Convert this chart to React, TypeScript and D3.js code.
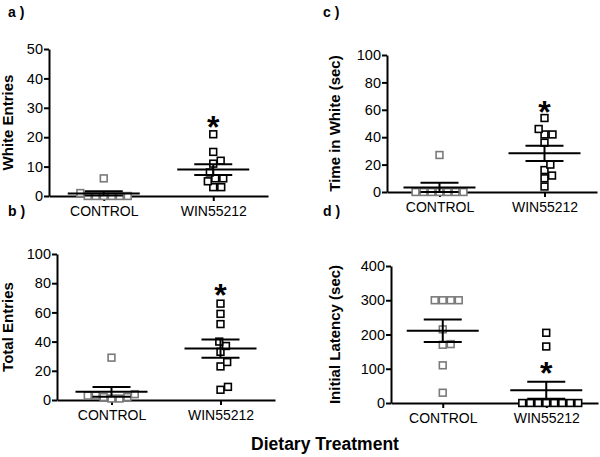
import React, { useEffect, useRef } from "react";
import * as d3 from "d3";

const categories = ["CONTROL", "WIN55212"];

const whiteEntriesControl = [0, 0, 0, 0, 0, 0, 1, 6];
const whiteEntriesWin = [3, 3, 5, 6, 6, 8, 11, 12, 15, 21];
const totalEntriesControl = [1, 1, 2, 2, 3, 3, 4, 29];
const totalEntriesWin = [7, 9, 23, 26, 33, 37, 40, 52, 59, 66];
const timeWhiteControl = [0, 0, 0, 0, 0, 0, 0, 27];
const timeWhiteWin = [4, 10, 12, 16, 20, 36, 42, 42, 46, 54];
const latencyControl = [30, 110, 170, 172, 215, 300, 300, 300, 300];
const latencyWin = [0, 0, 0, 0, 0, 0, 0, 0, 165, 205];

const panelLetters = ["a )", "b )", "c )", "d )"];
const yLabels = ["White Entries", "Total Entries", "Time in White (sec)", "Initial Latency (sec)"];
const yMaxes = [50, 100, 100, 400];
const yTickSteps = [10, 20, 20, 100];
const starValues = [26, 77, 64, 110];
const xTitle = "Dietary Treatment";

const seriesByPanel = [
  [whiteEntriesControl, whiteEntriesWin],
  [totalEntriesControl, totalEntriesWin],
  [timeWhiteControl, timeWhiteWin],
  [latencyControl, latencyWin],
];

// layout (pixels)
const layouts = [
  { left: 49, right: 268, top: 49, bottom: 196, labelX: 8, letterX: 8, letterY: 17 },
  { left: 57, right: 275, top: 254, bottom: 400, labelX: 8, letterX: 8, letterY: 216 },
  { left: 387, right: 597, top: 55, bottom: 192, labelX: 335, letterX: 323, letterY: 17 },
  { left: 391, right: 598, top: 266, bottom: 403, labelX: 335, letterX: 323, letterY: 216 },
];

const FONT = "'Liberation Sans', Arial, Helvetica, sans-serif";
const colors = ["#7a7a7a", "#000000"];

function swarm(values: number[], y: (v: number) => number, d: number) {
  const placed: { x: number; y: number }[] = [];
  for (const v of values) {
    const py = y(v);
    const cands = [0];
    for (const p of placed) {
      const dy = Math.abs(p.y - py);
      if (dy < d) {
        const dx = Math.sqrt(d * d - dy * dy);
        cands.push(p.x + dx, p.x - dx);
      }
    }
    cands.sort((a, b) => Math.abs(a) - Math.abs(b) || b - a);
    let chosen = 0;
    for (const c of cands) {
      const ok = placed.every((p) => (p.x - c) ** 2 + (p.y - py) ** 2 >= d * d - 0.01);
      if (ok) {
        chosen = c;
        break;
      }
    }
    placed.push({ x: chosen, y: py });
  }
  return placed;
}

export default function App() {
  const ref = useRef<SVGSVGElement>(null);

  useEffect(() => {
    const svg = d3.select(ref.current);
    svg.selectAll("*").remove();

    layouts.forEach((L, i) => {
      const g = svg.append("g");
      const x = d3.scalePoint<string>().domain(categories).range([L.left, L.right]).padding(0.5);
      const y = d3.scaleLinear().domain([0, yMaxes[i]]).range([L.bottom, L.top]);
      const ticks = d3.range(0, yMaxes[i] + 0.001, yTickSteps[i]);

      // y axis
      const ya = g
        .append("g")
        .attr("transform", `translate(${L.left},0)`)
        .call(d3.axisLeft(y).tickValues(ticks).tickSize(5).tickSizeOuter(0).tickPadding(1));
      ya.select(".domain").attr("stroke", "#000").attr("stroke-width", 2);
      ya.selectAll(".tick line").attr("stroke", "#000").attr("stroke-width", 2);
      ya.selectAll(".tick text").attr("font-family", FONT).attr("font-size", 14.5).attr("fill", "#000");

      // x axis
      const xa = g
        .append("g")
        .attr("transform", `translate(0,${L.bottom})`)
        .call(d3.axisBottom(x).tickSize(5).tickSizeOuter(0).tickPadding(5));
      xa.select(".domain").attr("stroke", "#000").attr("stroke-width", 2.2);
      xa.selectAll(".tick line").attr("stroke", "#000").attr("stroke-width", 2);
      xa.selectAll(".tick text").attr("font-family", FONT).attr("font-size", 14).attr("fill", "#000");

      // points + mean/sem
      seriesByPanel[i].forEach((vals, s) => {
        const cx = x(categories[s])!;
        const pts = swarm(vals, y, 8);
        const mean = d3.mean(vals)!;
        const sem = d3.deviation(vals)! / Math.sqrt(vals.length);
        const size = 6.8;
        g.append("g")
          .selectAll("rect")
          .data(pts)
          .join("rect")
          .attr("x", (p) => cx + p.x - size / 2)
          .attr("y", (p) => p.y - size / 2)
          .attr("width", size)
          .attr("height", size)
          .attr("fill", "#fff")
          .attr("stroke", colors[s])
          .attr("stroke-width", 1.6);
        const lg = g.append("g").attr("stroke", "#000").attr("stroke-width", 2);
        lg.append("line").attr("x1", cx - 36).attr("x2", cx + 36).attr("y1", y(mean)).attr("y2", y(mean));
        lg.append("line").attr("x1", cx - 19).attr("x2", cx + 19).attr("y1", y(mean + sem)).attr("y2", y(mean + sem));
        lg.append("line").attr("x1", cx - 19).attr("x2", cx + 19).attr("y1", y(mean - sem)).attr("y2", y(mean - sem));
        lg.append("line").attr("x1", cx).attr("x2", cx).attr("y1", y(mean + sem)).attr("y2", y(mean - sem));
      });

      // significance star
      g.append("text")
        .attr("x", x(categories[1])!)
        .attr("y", y(starValues[i]))
        .attr("dy", "0.58em")
        .attr("text-anchor", "middle")
        .attr("font-family", FONT)
        .attr("font-weight", "bold")
        .attr("font-size", 32)
        .text("*");

      // y label
      g.append("text")
        .attr("transform", `translate(${L.labelX},${(L.top + L.bottom) / 2}) rotate(-90)`)
        .attr("dy", "0.35em")
        .attr("text-anchor", "middle")
        .attr("font-family", FONT)
        .attr("font-weight", "bold")
        .attr("font-size", 15)
        .text(yLabels[i]);

      // panel letter
      g.append("text")
        .attr("x", L.letterX)
        .attr("y", L.letterY)
        .attr("font-family", FONT)
        .attr("font-weight", "bold")
        .attr("font-size", 14)
        .text(panelLetters[i]);
    });

    svg
      .append("text")
      .attr("x", 325)
      .attr("y", 450)
      .attr("text-anchor", "middle")
      .attr("font-family", FONT)
      .attr("font-weight", "bold")
      .attr("font-size", 17.5)
      .text(xTitle);
  }, []);

  return (
    <svg
      ref={ref}
      width={600}
      height={457}
      style={{ position: "absolute", left: 0, top: 0, background: "#fff" }}
    />
  );
}
